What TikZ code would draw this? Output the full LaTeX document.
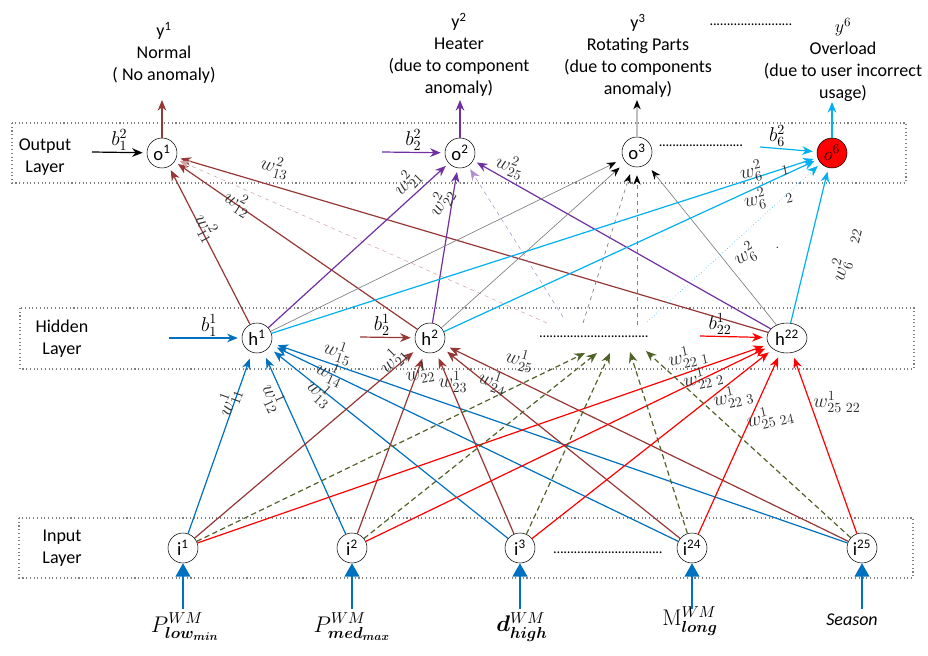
\RequirePackage{fix-cm}
\documentclass[tikz,border=0pt]{standalone}
\usepackage[no-math]{fontspec}
\setmainfont{Carlito}
\usepackage{amsmath}
\usepackage{bm}
\usetikzlibrary{arrows.meta}
\usetikzlibrary{shapes.geometric}

\definecolor{brn}{RGB}{149,55,53}
\definecolor{prp}{RGB}{112,48,160}
\definecolor{lblue}{RGB}{0,176,240}
\definecolor{dblue}{RGB}{0,112,192}
\definecolor{olv}{RGB}{79,98,40}
\definecolor{wgray}{RGB}{45,45,45}

\newcommand{\dotrow}[1]{\makebox[#1]{\xleaders\hbox to 2.5pt{\hss.\hss}\hfill}}

\tikzset{
  neuron/.style={circle,draw,thin,fill=white,minimum size=22.5pt,inner sep=0pt,font=\fontsize{14}{14}\selectfont},
  layerbox/.style={draw=gray,dotted,thick},
  wire/.style={line width=0.9pt,-{Stealth[length=8pt,width=6.5pt]},shorten >=3pt},
  thinwire/.style={draw=gray,line width=0.5pt,-{Stealth[length=7pt,width=5.5pt,black]},shorten >=6pt},
  wlab/.style={text=wgray,font=\fontsize{15}{15}\selectfont,inner sep=1pt},
  txt/.style={font=\fontsize{13.5}{16.5}\selectfont,align=center},
  dotbox/.style={font=\fontsize{11}{11}\selectfont,inner sep=0pt},
  feed/.style={draw=dblue,line width=1.3pt,-{Triangle[length=10pt,width=11pt]}},
  inlab/.style={font=\fontsize{17}{17}\selectfont},
}

\begin{document}
\begin{tikzpicture}[x=0.75pt,y=-0.75pt]
\useasboundingbox (0,0) rectangle (928,656);

% layers
\draw[layerbox] (12,123) rectangle (906,183);
\draw[layerbox] (20,308) rectangle (914,369);
\draw[layerbox] (19,518) rectangle (913,578);
\node[txt] (outlay) at (45,157) {Output\\Layer};
\node[txt] (hidlay) at (62,339) {Hidden\\Layer};
\node[txt] (inlay) at (62,548) {Input\\Layer};

% neurons
\node[neuron] (o1) at (162,153) {o\textsuperscript{1}};
\node[neuron] (o2) at (460,153) {o\textsuperscript{2}};
\node[neuron] (o3) at (637,152) {o\textsuperscript{3}};
\node[neuron,fill=red] (o6) at (832,153) {$o^6$};
\node[neuron] (h1) at (257,338) {h\textsuperscript{1}};
\node[neuron] (h2) at (430,338) {h\textsuperscript{2}};
\node[neuron,ellipse,minimum width=30pt,minimum height=22.5pt] (h22) at (787,338) {h\textsuperscript{22}};
\node[neuron] (i1) at (183,548) {i\textsuperscript{1}};
\node[neuron] (i2) at (352,548) {i\textsuperscript{2}};
\node[neuron] (i3) at (520,548) {i\textsuperscript{3}};
\node[neuron] (i24) at (692,548) {i\textsuperscript{24}};
\node[neuron] (i25) at (862,548) {i\textsuperscript{25}};
\node[dotbox] (ydots) at (751,25) {\dotrow{62pt}};
\node[dotbox] (odots) at (701,146) {\dotrow{63pt}};
\node[dotbox] (hdots) at (594,337) {\dotrow{82pt}};
\node[dotbox] (idots) at (608,553) {\dotrow{82pt}};

% classes
\node[txt] (ylab1) at (164,53) {y\textsuperscript{1}\\Normal\\( No anomaly)};
\node[txt] (ylab2) at (459,55) {y\textsuperscript{2}\\Heater\\(due to component\\anomaly)};
\node[txt] (ylab3) at (638,56) {y\textsuperscript{3}\\Rotating Parts\\(due to components\\anomaly)};
\node[txt] (ylab6) at (843,60) {$y^6$\\Overload\\(due to user incorrect\\usage)};
\coordinate (yo1) at (162,100);
\coordinate (yo2) at (460,100);
\coordinate (yo3) at (637,100);
\coordinate (yo6) at (832,102);
\draw[wire,brn,shorten >=0pt] (o1) -- (yo1);
\draw[wire,prp,shorten >=0pt] (o2) -- (yo2);
\draw[thinwire,draw=gray!50,line width=0.9pt,shorten >=0pt] (o3) -- (yo3);
\draw[wire,lblue,shorten >=0pt] (o6) -- (yo6);

% biases
\coordinate (b12) at (92,152);
\coordinate (b22) at (382,152);
\coordinate (b62) at (760,147);
\coordinate (b11) at (169,338);
\coordinate (b21) at (360,337);
\coordinate (b221) at (700,336);
\draw[wire,black] (b12) -- node[wlab,above,text=black]{$b^2_1$} (o1);
\draw[wire,prp] (b22) -- node[wlab,above,text=black]{$b^2_2$} (o2);
\draw[wire,lblue] (b62) -- node[wlab,above,pos=0.3,text=black]{$b^2_6$} (o6);
\draw[wire,dblue] (b11) -- node[wlab,above,pos=0.55,text=black]{$b^1_1$} (h1);
\draw[wire,brn] (b21) -- node[wlab,above,pos=0.4,text=black]{$b^1_2$} (h2);
\draw[wire,red] (b221) -- node[wlab,above,pos=0.3,text=black]{$b^1_{22}$} (h22);

% hidden to output
\coordinate (hd1) at (547,323);
\coordinate (hd2) at (563,317);
\coordinate (hd3) at (583,323);
\coordinate (hd4) at (637,325);
\coordinate (hd5) at (647,322);
\draw[wire,brn] (h1) -- (o1);
\draw[wire,brn] (h2) -- (o1);
\draw[wire,brn] (h22) -- (o1);
\draw[wire,brn!45,line width=0.4pt,dashed] (hd1) -- (o1);
\draw[wire,prp] (h1) -- (o2);
\draw[wire,prp] (h2) -- (o2);
\draw[wire,prp] (h22) -- (o2);
\draw[wire,prp!55,line width=0.4pt,dashed] (hd2) -- (o2);
\draw[thinwire] (h1) -- (o3);
\draw[thinwire] (h2) -- (o3);
\draw[thinwire] (h22) -- (o3);
\draw[thinwire,dashed] (hd3) -- (o3);
\draw[thinwire,dashed] (hd4) -- (o3);
\draw[wire,lblue] (h1) -- (o6);
\draw[wire,lblue] (h2) -- (o6);
\draw[wire,lblue,line width=0.4pt,dotted] (hd5) -- (o6);
\draw[wire,lblue] (h22) -- (o6);

% input to hidden
\draw[wire,dblue,shorten >=5pt] (i1) -- (h1);
\draw[wire,dblue,shorten >=5pt] (i2) -- (h1);
\draw[wire,dblue,shorten >=5pt] (i3) -- (h1);
\draw[wire,dblue,shorten >=5pt] (i24) -- (h1);
\draw[wire,dblue,shorten >=5pt] (i25) -- (h1);
\draw[wire,brn,shorten >=5pt] (i1) -- (h2);
\draw[wire,brn,shorten >=5pt] (i2) -- (h2);
\draw[wire,brn,shorten >=5pt] (i3) -- (h2);
\draw[wire,brn,shorten >=5pt] (i24) -- (h2);
\draw[wire,brn,shorten >=5pt] (i25) -- (h2);
\draw[wire,red,shorten >=4pt] (i1) -- (h22);
\draw[wire,red,shorten >=4pt] (i2) -- (h22);
\draw[wire,red,shorten >=4pt] (i3) -- (h22);
\draw[wire,red,shorten >=4pt] (i24) -- (h22);
\draw[wire,red,shorten >=4pt] (i25) -- (h22);
\coordinate (ta1) at (585,353);
\coordinate (ta2) at (597,353);
\coordinate (ta3) at (610,353);
\coordinate (ta4) at (630,352);
\coordinate (ta5) at (646,351);
\draw[wire,olv,dash pattern=on 4pt off 2.5pt,shorten >=0pt] (i1) -- (ta1);
\draw[wire,olv,dash pattern=on 4pt off 2.5pt,shorten >=0pt] (i2) -- (ta2);
\draw[wire,olv,dash pattern=on 4pt off 2.5pt,shorten >=0pt] (i3) -- (ta3);
\draw[wire,olv,dash pattern=on 4pt off 2.5pt,shorten >=0pt] (i24) -- (ta4);
\draw[wire,olv,dash pattern=on 4pt off 2.5pt,shorten >=0pt] (i25) -- (ta5);

% weights
\node[wlab,rotate=-62] (w112) at (206,228) {$w^2_{11}$};
\node[wlab,rotate=-32] (w122) at (238,203) {$w^2_{12}$};
\node[wlab,rotate=-15] (w132) at (275,167) {$w^2_{13}$};
\node[wlab,rotate=45] (w212) at (407,182) {$w^2_{21}$};
\node[wlab,rotate=60] (w222) at (441,202) {$w^2_{22}$};
\node[wlab,rotate=-20] (w252) at (510,166) {$w^2_{25}$};
\node[wlab,rotate=12] (w612) at (764,169) {$w^2_{6\quad 1}$};
\node[wlab,rotate=12] (w622) at (768,197) {$w^2_{6\quad 2}$};
\node[wlab,rotate=30] (w6d2) at (755,249) {$w^2_{6\quad .}$};
\node[wlab,rotate=75] (w6222) at (845,254) {$w^2_{6\quad 22}$};
\node[wlab,rotate=70] (w111) at (229,402) {$w^1_{11}$};
\node[wlab,rotate=-65] (w121) at (273,398) {$w^1_{12}$};
\node[wlab,rotate=-42] (w131) at (320,393) {$w^1_{13}$};
\node[wlab,rotate=-25] (w141) at (330,373) {$w^1_{14}$};
\node[wlab,rotate=-18] (w151) at (338,352) {$w^1_{15}$};
\node[wlab,rotate=45] (w211) at (393,360) {$w^1_{21}$};
\node[wlab,rotate=10] (w221) at (420,373) {$w^1_{22}$};
\node[wlab] (w231) at (453,382) {$w^1_{23}$};
\node[wlab,rotate=-18] (w241) at (493,382) {$w^1_{24}$};
\node[wlab,rotate=-15] (w251) at (520,360) {$w^1_{25}$};
\node[wlab,rotate=12] (w2211) at (688,357) {$w^1_{22\ 1}$};
\node[wlab,rotate=12] (w2221) at (703,378) {$w^1_{22\ 2}$};
\node[wlab,rotate=12] (w2231) at (733,397) {$w^1_{22\ 3}$};
\node[wlab,rotate=12] (w25241) at (770,417) {$w^1_{25\ 24}$};
\node[wlab] (w25221) at (837,402) {$w^1_{25\ 22}$};

% inputs
\node[inlab] (pin1) at (185,627) {$P^{WM}_{\bm{low_{min}}}$};
\node[inlab] (pin2) at (352,627) {$P^{WM}_{\bm{med_{max}}}$};
\node[inlab] (pin3) at (522,627) {$\bm{d}^{WM}_{\bm{high}}$};
\node[inlab] (pin24) at (690,621) {$\mathrm{M}^{WM}_{\bm{long}}$};
\node[txt] (pin25) at (852,620) {\textit{Season}};
\coordinate (f1) at (183,609);
\coordinate (f2) at (352,609);
\coordinate (f3) at (520,609);
\coordinate (f24) at (692,609);
\coordinate (f25) at (862,609);
\draw[feed] (f1) -- (i1);
\draw[feed] (f2) -- (i2);
\draw[feed] (f3) -- (i3);
\draw[feed] (f24) -- (i24);
\draw[feed] (f25) -- (i25);
\end{tikzpicture}
\end{document}
